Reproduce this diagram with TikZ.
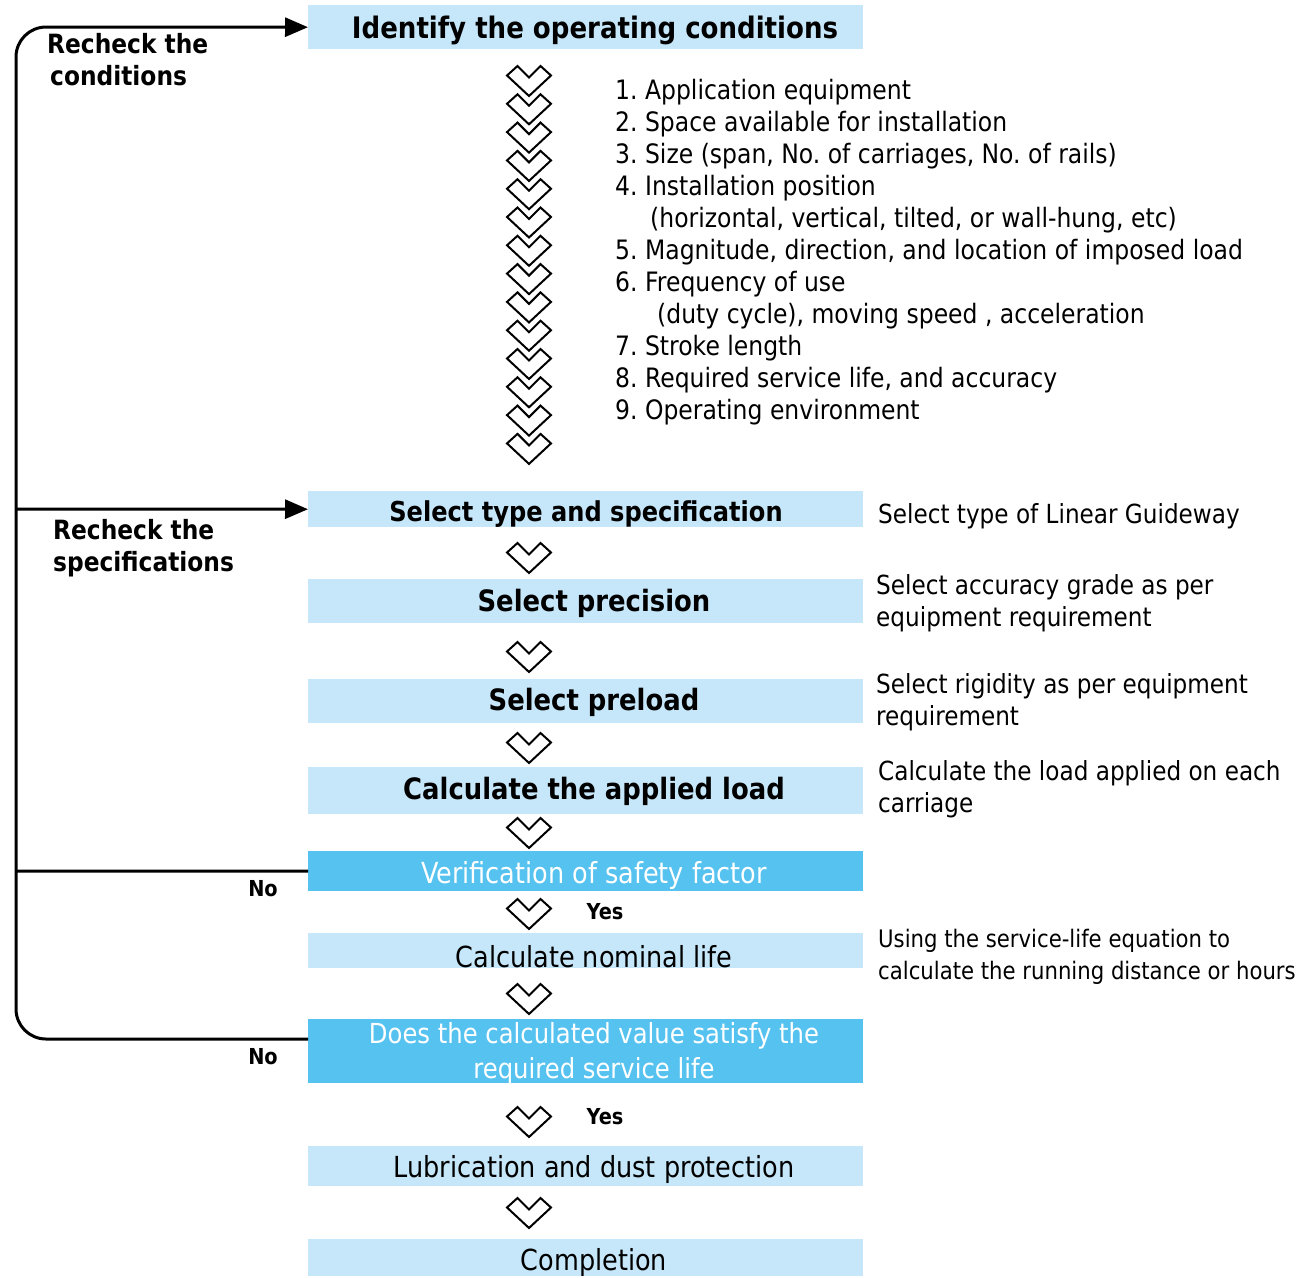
\documentclass[tikz,border=0pt]{standalone}
\usepackage{fontspec}
\setmainfont{DejaVu Sans}[FakeStretch=0.88]
\usetikzlibrary{arrows.meta}
\frenchspacing

\definecolor{boxlight}{HTML}{C6E7F9}
\definecolor{boxdark}{HTML}{56C2F0}

\newcommand{\fs}[2]{\fontsize{#1}{#2}\selectfont}

\tikzset{
  panel/.style={fill=#1, draw=none, minimum width=555pt, inner sep=0pt, anchor=north west},
  titlebold/.style={font=\bfseries\fs{29.4}{34}, inner sep=0pt},
  titleplain/.style={font=\fs{29}{34}, inner sep=0pt},
  titlewhite/.style={font=\fs{29}{35}, text=white, inner sep=0pt, align=center},
  % multi-line notes are anchored at the baseline of their last line
  note/.style={font=\fs{26.3}{32}, inner sep=0pt, anchor=base west, align=left},
  listline/.style={font=\fs{26.7}{32}, inner sep=0pt, anchor=base west},
  tag/.style={font=\bfseries\fs{26.5}{32}, inner sep=0pt, anchor=base west, align=left},
  smalltag/.style={font=\bfseries\fs{22}{26}, inner sep=0pt},
  loopline/.style={line width=3pt, line cap=butt},
  loopkey/.style={-{Triangle[length=23pt, width=19pt]}},
  chev/.pic={
    \draw[line width=2pt, line join=miter]
      (-22,9.5) -- (-11.5,0) -- (0,11.5) -- (11.5,0) -- (22,9.5) -- (0,30) -- cycle;
  }
}

\begin{document}
\begin{tikzpicture}[x=1pt, y=-1pt]
\useasboundingbox (0,0) rectangle (1300,1277);

% process boxes
\node[panel=boxlight, minimum height=44pt] (b1) at (308,5) {};
\node[panel=boxlight, minimum height=36pt] (b2) at (308,491) {};
\node[panel=boxlight, minimum height=44pt] (b3) at (308,579) {};
\node[panel=boxlight, minimum height=44pt] (b4) at (308,679) {};
\node[panel=boxlight, minimum height=47pt] (b5) at (308,767) {};
\node[panel=boxdark,  minimum height=40pt] (b6) at (308,851) {};
\node[panel=boxlight, minimum height=35pt] (b7) at (308,933) {};
\node[panel=boxdark,  minimum height=64pt] (b8) at (308,1019) {};
\node[panel=boxlight, minimum height=40pt] (b9) at (308,1146) {};
\node[panel=boxlight, minimum height=37pt] (b10) at (308,1239) {};

% box titles
\node[titlebold, font=\bfseries\fs{29.6}{34}] (t1) at (595,30) {Identify the operating conditions};
\node[titlebold, font=\bfseries\fs{27.4}{34}] (t2) at (586,514) {Select type and specification};
\node[titlebold] (t3) at (594,603) {Select precision};
\node[titlebold] (t4) at (594,702) {Select preload};
\node[titlebold] (t5) at (594,791) {Calculate the applied load};
\node[titlewhite] (t6) at (594,875) {Verification of safety factor};
\node[titleplain] (t7) at (594,957) {Calculate nominal life};
\node[titlewhite, font=\fs{27.6}{35}] (t8) at (594,1053) {Does the calculated value satisfy the\\required service life};
\node[titleplain] (t9) at (594,1169) {Lubrication and dust protection};
\node[titleplain] (t10) at (594,1262) {Completion};

% operating conditions list
\node[listline] (l1) at (615,99) {1. Application equipment};
\node[listline] (l2) at (615,131) {2. Space available for installation};
\node[listline] (l3) at (615,163) {3. Size (span, No. of carriages, No. of rails)};
\node[listline] (l4) at (615,195) {4. Installation position};
\node[listline] (l5) at (650,227) {(horizontal, vertical, tilted, or wall-hung, etc)};
\node[listline] (l6) at (615,259) {5. Magnitude, direction, and location of imposed load};
\node[listline] (l7) at (615,291) {6. Frequency of use};
\node[listline] (l8) at (657,323) {(duty cycle), moving speed , acceleration};
\node[listline] (l9) at (615,355) {7. Stroke length};
\node[listline] (l10) at (615,387) {8. Required service life, and accuracy};
\node[listline] (l11) at (615,419) {9. Operating environment};

% side notes
\node[note] (r2) at (878,523) {Select type of Linear Guideway};
\node[note] (r3) at (876,626) {Select accuracy grade as per\\equipment requirement};
\node[note] (r4) at (876,725) {Select rigidity as per equipment\\requirement};
\node[note] (r5) at (878,812) {Calculate the load applied on each\\carriage};
\node[note, font=\fs{24.1}{32}] (r7) at (878,979) {Using the service-life equation to\\calculate the running distance or hours};

% chevrons
\foreach \i in {0,...,13} {
  \pic at (529,{66+28.3*\i}) {chev};
}
\foreach \yy in {543,642,733,818,899,984,1107,1198} {
  \pic at (529,\yy) {chev};
}

% decision labels
\node[smalltag] (y1) at (605,912) {Yes};
\node[smalltag] (y2) at (605,1117) {Yes};
\node[smalltag] (n1) at (263,889) {No};
\node[smalltag] (n2) at (263,1057) {No};

% feedback loops
\coordinate (c1) at (308,1039);
\coordinate (cl) at (16,1039);
\coordinate (ct) at (16,27);
\coordinate (j2) at (16,509);
\coordinate (j1) at (16,871);
\draw[loopline, loopkey, rounded corners=30pt] (c1) -- (cl) -- (ct) -- (b1.west);
\draw[loopline, loopkey] (j2) -- (b2.west);
\draw[loopline] (b6.west) -- (j1);

\node[tag] (k1) at (47,85) {Recheck the\\\hspace*{3pt}conditions};
\node[tag] (k2) at (53,571) {Recheck the\\specifications};
\end{tikzpicture}
\end{document}
